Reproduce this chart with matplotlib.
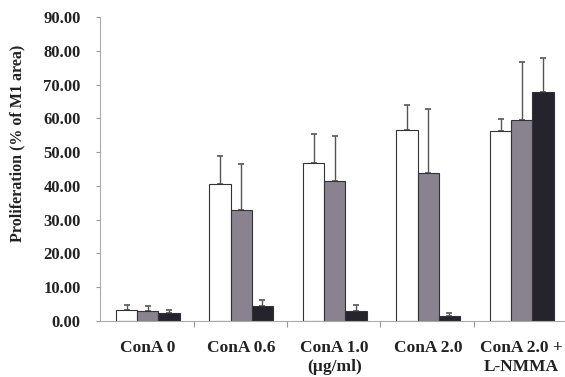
import matplotlib
matplotlib.use("Agg")
import matplotlib.pyplot as plt
import numpy as np

categories = ["ConA 0", "ConA 0.6", "ConA 1.0\n(\u00b5g/ml)", "ConA 2.0", "ConA 2.0 +\nL-NMMA"]
white_vals = [3.2, 40.7, 46.9, 56.5, 56.2]
white_err = [1.6, 8.2, 8.5, 7.5, 3.7]
gray_vals = [3.0, 33.0, 41.4, 43.9, 59.5]
gray_err = [1.3, 13.5, 13.4, 18.8, 17.3]
black_vals = [2.5, 4.4, 3.0, 1.5, 67.9]
black_err = [0.7, 1.9, 1.7, 0.8, 10.1]
yticks = [0, 10, 20, 30, 40, 50, 60, 70, 80, 90]

plt.rcParams['font.family'] = ['Liberation Serif', 'DejaVu Serif']
plt.rcParams['font.weight'] = 'bold'

fig = plt.figure(figsize=(5.65, 3.77), dpi=100)
ax = fig.add_axes([100/565, 56/377, 467.5/565, 304/377])

n = len(categories)
x = np.arange(n)
w = 0.227
off = 0.17
series = [(white_vals, white_err, "white"),
          (gray_vals, gray_err, "#88838f"),
          (black_vals, black_err, "#25232b")]
for k, (vals, err, col) in enumerate(series):
    pos = x + off + k * w
    ax.bar(pos, vals, width=w, align='edge', color=col, edgecolor='#333333', linewidth=0.8, zorder=2)
    ax.errorbar(pos + w / 2, vals, yerr=[np.zeros(n), err], fmt='none', ecolor='#555555',
                elinewidth=1.0, capsize=2.5, capthick=1.2, zorder=1)

ax.set_xlim(0, n)
ax.set_ylim(0, 90)
ax.set_yticks(yticks)
ax.set_yticklabels([f"{v:.2f}" for v in yticks], fontsize=12, fontweight='bold', color='#222222')
ax.set_xticks(np.arange(1, n))
ax.set_xticklabels([])
ax.set_xticks(x + 0.51, minor=True)
ax.set_xticklabels(categories, minor=True, fontsize=12.5, fontweight='bold', color='#222222', linespacing=1.25)
ax.tick_params(axis='x', which='minor', length=0, pad=14)
ax.tick_params(axis='x', which='major', length=4, color='#999999', direction='out')
ax.tick_params(axis='y', length=3, color='#999999', pad=11)

for s in ['top', 'right']:
    ax.spines[s].set_visible(False)
for s in ['left', 'bottom']:
    ax.spines[s].set_color('#aaaaaa')
    ax.spines[s].set_linewidth(0.8)

fig.text(17/565, 1 - 143/377, "Proliferation (% of M1 area)", rotation=90, ha='center', va='center',
         fontsize=11.5, fontweight='bold', color='#222222')

fig.savefig("out.png", dpi=100)
